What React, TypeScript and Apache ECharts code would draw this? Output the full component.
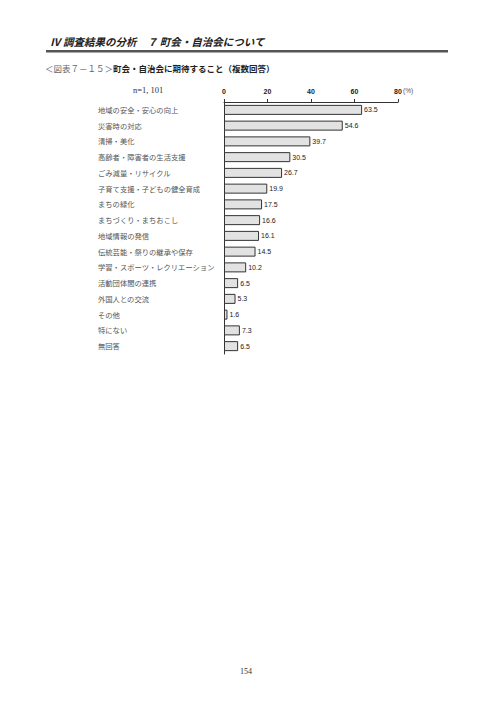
import React, { useEffect, useRef } from "react";
import * as echarts from "echarts";

const categories = [
  "地域の安全・安心の向上",
  "災害時の対応",
  "清掃・美化",
  "高齢者・障害者の生活支援",
  "ごみ減量・リサイクル",
  "子育て支援・子どもの健全育成",
  "まちの緑化",
  "まちづくり・まちおこし",
  "地域情報の発信",
  "伝統芸能・祭りの継承や保存",
  "学習・スポーツ・レクリエーション",
  "活動団体間の連携",
  "外国人との交流",
  "その他",
  "特にない",
  "無回答",
];
const values = [63.5, 54.6, 39.7, 30.5, 26.7, 19.9, 17.5, 16.6, 16.1, 14.5, 10.2, 6.5, 5.3, 1.6, 7.3, 6.5];
const headerText = "Ⅳ 調査結果の分析　７ 町会・自治会について";
const titlePrefix = "＜図表７－１５＞";
const titleMain = "町会・自治会に期待すること（複数回答）";
const sampleText = "n=1, 101";
const unitText = "(%)";
const pageNumber = "154";

export default function App() {
  const ref = useRef<HTMLDivElement>(null);
  useEffect(() => {
    document.body.style.margin = "0";
    const chart = echarts.init(ref.current!, null, { renderer: "svg" });
    chart.setOption({
      animation: false,
      backgroundColor: "#ffffff",
      grid: { left: 224, right: 98, top: 102, height: 252, containLabel: false },
      xAxis: {
        type: "value",
        position: "top",
        min: 0,
        max: 80,
        interval: 20,
        axisLine: { show: true, lineStyle: { color: "#333", width: 1 } },
        axisTick: { show: true, length: 3, lineStyle: { color: "#333" } },
        axisLabel: { fontSize: 7, color: "#222", margin: 7, fontFamily: "Liberation Sans", fontWeight: "bold" },
        splitLine: { show: false },
      },
      yAxis: {
        type: "category",
        data: categories,
        inverse: true,
        axisLine: { show: true, lineStyle: { color: "#333", width: 1 } },
        axisTick: { show: false },
        axisLabel: {
          align: "left",
          margin: 126,
          fontSize: 7.3,
          color: "#555",
          fontFamily: "Noto Sans CJK JP",
        },
      },
      series: [
        {
          type: "bar",
          data: values,
          barWidth: 10,
          itemStyle: { color: "#e2e2e2", borderColor: "#333", borderWidth: 1 },
          label: {
            show: true,
            position: "right",
            distance: 2,
            fontSize: 7,
            color: "#222",
            fontFamily: "Liberation Sans",
            formatter: (p: any) => Number(p.value).toFixed(1),
          },
        },
      ],
      graphic: [
        {
          type: "text",
          left: 50,
          top: 36,
          style: {
            text: headerText,
            fontSize: 10.5,
            fontStyle: "italic",
            fontWeight: "bold",
            fill: "#222",
            fontFamily: "Noto Sans CJK JP",
          },
        },
        {
          type: "rect",
          shape: { x: 46, y: 50, width: 402, height: 2.5 },
          style: { fill: "#555" },
        },
        {
          type: "text",
          left: 45,
          top: 64,
          style: {
            rich: {
              a: { fontSize: 8.5, fill: "#666", fontFamily: "Noto Sans CJK JP" },
              b: { fontSize: 8.5, fill: "#222", fontWeight: "bold", fontFamily: "Noto Sans CJK JP" },
            },
            text: "{a|" + titlePrefix + "}{b|" + titleMain + "}",
          },
        },
        {
          type: "text",
          left: 133,
          top: 85,
          style: { text: sampleText, fontSize: 8.5, fill: "#333", fontFamily: "Liberation Serif" },
        },
        {
          type: "text",
          left: 403,
          top: 87,
          style: { text: unitText, fontSize: 6.5, fill: "#555", fontFamily: "Liberation Sans" },
        },
        {
          type: "text",
          left: 240,
          top: 667,
          style: { text: pageNumber, fontSize: 8, fill: "#333", fontFamily: "Liberation Serif" },
        },
      ],
    });
    return () => chart.dispose();
  }, []);
  return <div ref={ref} style={{ width: 496, height: 702 }} />;
}
